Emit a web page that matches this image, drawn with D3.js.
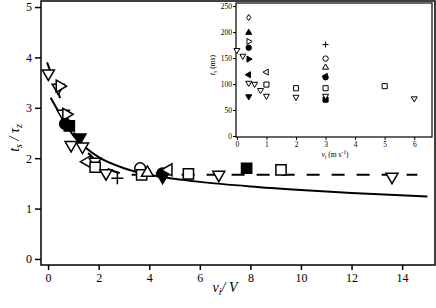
<!DOCTYPE html>
<html>
<head>
<meta charset="utf-8">
<script src="https://cdn.jsdelivr.net/npm/d3@7"></script>
<style>
  body { margin: 0; background: #fff; }
  svg { font-family: "Liberation Serif", "DejaVu Serif", serif; }
</style>
</head>
<body>
<div id="plot"></div>
<script>
// chart size
var svgWidth = 436;
var svgHeight = 308;

// main plot: t_s / tau_z vs v_i / V, points as [x, y, symbol]
var mainPoints = [
  [0.01, 3.68, "triDownOpen"],
  [0.40, 3.40, "triDownOpen"],
  [0.46, 3.43, "triRightOpen"],
  [0.60, 2.88, "triDownOpen"],
  [0.72, 2.87, "triRightOpen"],
  [0.67, 2.68, "circleFilled"],
  [0.84, 2.64, "squareFilled"],
  [1.26, 2.41, "triDownFilled"],
  [0.91, 2.26, "triDownOpen"],
  [1.36, 2.23, "triDownOpen"],
  [1.55, 1.93, "triLeftOpen"],
  [1.86, 1.93, "triDownOpen"],
  [1.86, 1.82, "squareOpen"],
  [2.29, 1.70, "triDownOpen"],
  [2.74, 1.60, "plus"],
  [3.64, 1.80, "circleOpen"],
  [3.70, 1.67, "squareOpen"],
  [3.93, 1.71, "triUpOpen"],
  [4.52, 1.70, "circleFilled"],
  [4.53, 1.63, "triDownFilled"],
  [4.76, 1.77, "triLeftOpen"],
  [5.55, 1.69, "squareOpen"],
  [6.75, 1.67, "triDownOpen"],
  [7.85, 1.80, "squareFilled"],
  [9.21, 1.77, "squareOpen"],
  [13.6, 1.63, "triDownOpen"]
];

// solid fitted curve
var solidX = [0.1, 0.5, 1.0, 1.5, 2.0, 3.0, 4.0, 5.0, 6.0, 8.0, 10.0, 12.0, 15.0];
var solidY = [3.2, 2.85, 2.45, 2.2, 2.02, 1.8, 1.67, 1.59, 1.53, 1.44, 1.37, 1.31, 1.24];

// dashed curve
var dashX = [-0.04, 0.4, 0.8, 1.2, 1.8, 2.5, 3.0, 3.5, 14.6];
var dashY = [3.9, 3.3, 2.75, 2.35, 2.0, 1.76, 1.69, 1.67, 1.67];

var mainXTicks = [0, 2, 4, 6, 8, 10, 12, 14];
var mainYTicks = [0, 1, 2, 3, 4, 5];

// inset: t_s (ms) vs v_i (m/s)
var insetPoints = [
  [0.4, 228, "diamondOpen"],
  [0.4, 199, "triUpFilled"],
  [0.4, 182, "triRightOpen"],
  [0.4, 170, "circleFilled"],
  [0.0, 165, "triDownOpen"],
  [0.2, 154, "triDownOpen"],
  [0.4, 148, "triRightFilled"],
  [0.4, 118, "triLeftFilled"],
  [1.0, 123, "triLeftOpen"],
  [0.4, 102, "triDownOpen"],
  [0.6, 100, "triDownOpen"],
  [1.0, 99, "squareOpen"],
  [0.8, 88, "triDownOpen"],
  [1.0, 77, "triDownOpen"],
  [0.4, 76, "triDownFilled"],
  [2.0, 92, "squareOpen"],
  [2.0, 75, "triDownOpen"],
  [3.0, 176, "plus"],
  [3.0, 149, "circleOpen"],
  [3.0, 132, "triUpOpen"],
  [3.0, 115, "triLeftOpen"],
  [3.0, 113, "circleFilled"],
  [3.0, 92, "squareOpen"],
  [3.0, 70, "squareFilled"],
  [3.0, 77, "triDownOpen"],
  [5.0, 96, "squareOpen"],
  [6.0, 72, "triDownOpen"]
];

var insetXTicks = [0, 1, 2, 3, 4, 5, 6];
var insetYTicks = [0, 50, 100, 150, 200, 250];

// marker path for a symbol name and size
function markerPath(type, r) {
  var h = r * 0.58, k = r * 1.15;
  var shape = type.replace(/Open|Filled/, "");
  if (shape === "triDown") return `M${-r},${-h}L${r},${-h}L0,${k}Z`;
  if (shape === "triUp") return `M${-r},${h}L${r},${h}L0,${-k}Z`;
  if (shape === "triLeft") return `M${h},${-r}L${h},${r}L${-k},0Z`;
  if (shape === "triRight") return `M${-h},${-r}L${-h},${r}L${k},0Z`;
  if (shape === "square") { var s = r * 0.85; return `M${-s},${-s}H${s}V${s}H${-s}Z`; }
  if (shape === "circle") { var c = r * 0.9; return `M${c},0A${c},${c} 0 1,1 ${-c},0A${c},${c} 0 1,1 ${c},0Z`; }
  if (shape === "diamond") return `M0,${-r}L${r * 0.7},0L0,${r}L${-r * 0.7},0Z`;
  if (shape === "plus") return `M${-r},0H${r}M0,${-r}V${r}`;
  return "";
}

function drawMarkers(g, pts, x, y, r, sw) {
  g.selectAll("path.mk")
    .data(pts)
    .enter()
    .append("path")
    .attr("class", "mk")
    .attr("transform", d => `translate(${x(d[0])},${y(d[1])})`)
    .attr("d", d => markerPath(d[2], r))
    .attr("fill", d => d[2] === "plus" ? "none" : (d[2].indexOf("Filled") >= 0 ? "#000" : "#fff"))
    .attr("stroke", "#000")
    .attr("stroke-width", sw);
}

var svg = d3.select("#plot")
  .append("svg")
  .attr("width", svgWidth)
  .attr("height", svgHeight);

// main plot frame
var frame = { left: 41, right: 435, top: 1, bottom: 265 };

var x = d3.scaleLinear().domain([-0.28, 15.3]).range([frame.left, frame.right]);
var y = d3.scaleLinear().domain([-0.12, 5.12]).range([frame.bottom, frame.top]);

svg.append("rect")
  .attr("x", frame.left)
  .attr("y", frame.top)
  .attr("width", frame.right - frame.left)
  .attr("height", frame.bottom - frame.top)
  .attr("fill", "none")
  .attr("stroke", "#000")
  .attr("stroke-width", 1.5);

var bottomAxis = d3.axisBottom(x).tickValues(mainXTicks).tickSize(5).tickPadding(3).tickFormat(d3.format("d"));
var leftAxis = d3.axisLeft(y).tickValues(mainYTicks).tickSize(6).tickPadding(3).tickFormat(d3.format("d"));

var xAxis = svg.append("g")
  .attr("transform", `translate(0, ${frame.bottom})`)
  .call(bottomAxis);
var yAxis = svg.append("g")
  .attr("transform", `translate(${frame.left}, 0)`)
  .call(leftAxis);

[xAxis, yAxis].forEach(function(a) {
  a.select(".domain").remove();
  a.selectAll("line").attr("stroke-width", 1.5);
  a.selectAll("text").attr("font-size", 12).attr("font-family", "Liberation Serif");
});

// curves
var solidLine = d3.line().x(d => x(d[0])).y(d => y(d[1])).curve(d3.curveMonotoneX);
svg.append("path")
  .datum(solidX.map((v, i) => [v, solidY[i]]))
  .attr("d", solidLine)
  .attr("fill", "none")
  .attr("stroke", "#000")
  .attr("stroke-width", 2);

svg.append("path")
  .datum(dashX.map((v, i) => [v, dashY[i]]))
  .attr("d", solidLine)
  .attr("fill", "none")
  .attr("stroke", "#000")
  .attr("stroke-width", 2)
  .attr("stroke-dasharray", "13,12");

var mainG = svg.append("g");
drawMarkers(mainG, mainPoints, x, y, 6, 1.5);

// axis titles
var xt = svg.append("text")
  .attr("x", 225)
  .attr("y", 292)
  .attr("text-anchor", "middle")
  .attr("font-size", 14)
  .attr("font-style", "italic");
xt.append("tspan").text("v");
xt.append("tspan").attr("font-size", 10).attr("dy", 3).text("i");
xt.append("tspan").attr("dy", -3).text("/ V");

var yt = svg.append("text")
  .attr("transform", "translate(19, 138) rotate(-90)")
  .attr("text-anchor", "middle")
  .attr("font-size", 14)
  .attr("font-style", "italic");
yt.append("tspan").text("t");
yt.append("tspan").attr("font-size", 10).attr("dy", 3).text("s");
yt.append("tspan").attr("dy", -3).text(" / τ");
yt.append("tspan").attr("font-size", 10).attr("dy", 3).text("z");

// inset
var inset = { left: 236, right: 432, top: 3, bottom: 137 };
var ix = d3.scaleLinear().domain([-0.03, 6.6]).range([inset.left, inset.right]);
var iy = d3.scaleLinear().domain([0, 256]).range([136, inset.top]);

svg.append("rect")
  .attr("x", inset.left)
  .attr("y", inset.top)
  .attr("width", inset.right - inset.left)
  .attr("height", inset.bottom - inset.top)
  .attr("fill", "#fff")
  .attr("stroke", "#000")
  .attr("stroke-width", 1.2);

var ixAxis = svg.append("g")
  .attr("transform", `translate(0, ${inset.bottom})`)
  .call(d3.axisBottom(ix).tickValues(insetXTicks).tickSize(3).tickPadding(2).tickFormat(d3.format("d")));
var iyAxis = svg.append("g")
  .attr("transform", `translate(${inset.left}, 0)`)
  .call(d3.axisLeft(iy).tickValues(insetYTicks).tickSize(3).tickPadding(1).tickFormat(d3.format("d")));

[ixAxis, iyAxis].forEach(function(a) {
  a.select(".domain").remove();
  a.selectAll("line").attr("stroke-width", 1);
  a.selectAll("text").attr("font-size", 7.5).attr("font-family", "Liberation Serif");
});

var insetG = svg.append("g");
drawMarkers(insetG, insetPoints, ix, iy, 3, 1);

var ixt = svg.append("text")
  .attr("x", 335)
  .attr("y", 157)
  .attr("text-anchor", "middle")
  .attr("font-size", 7.5);
ixt.append("tspan").attr("font-style", "italic").text("v");
ixt.append("tspan").attr("font-size", 5.5).attr("dy", 2).attr("font-style", "italic").text("i");
ixt.append("tspan").attr("dy", -2).text("  (m s");
ixt.append("tspan").attr("font-size", 5.5).attr("dy", -3).text("-1");
ixt.append("tspan").attr("dy", 3).text(")");

var iyt = svg.append("text")
  .attr("transform", "translate(215, 65) rotate(-90)")
  .attr("text-anchor", "middle")
  .attr("font-size", 7.5);
iyt.append("tspan").attr("font-style", "italic").text("t");
iyt.append("tspan").attr("font-size", 5.5).attr("dy", 2).attr("font-style", "italic").text("s");
iyt.append("tspan").attr("dy", -2).text("  (ms)");
</script>
</body>
</html>
